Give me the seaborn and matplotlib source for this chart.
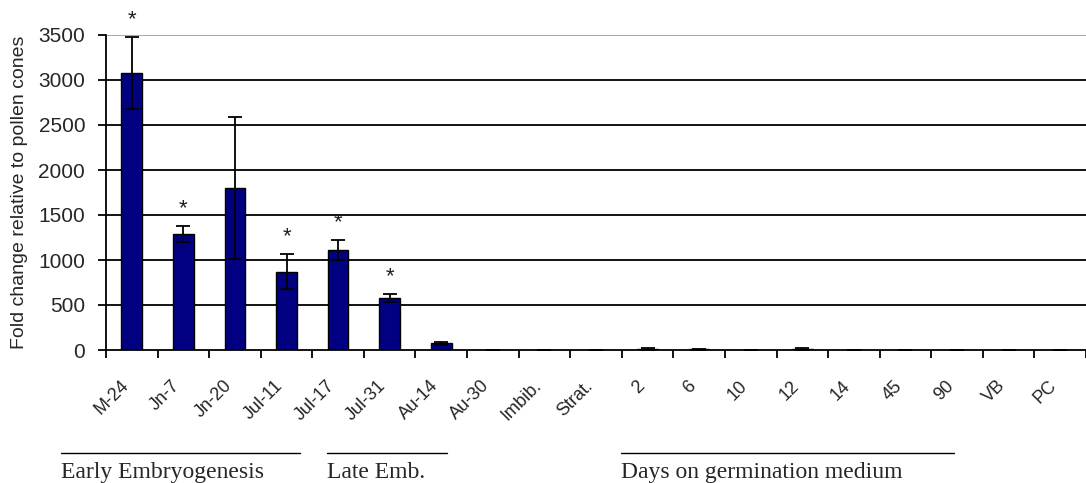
import matplotlib
matplotlib.use("Agg")
import matplotlib.pyplot as plt
import matplotlib.transforms as mtransforms
from matplotlib.lines import Line2D
import seaborn as sns
import pandas as pd
import numpy as np

categories = ["M-24", "Jn-7", "Jn-20", "Jul-11", "Jul-17", "Jul-31", "Au-14", "Au-30",
              "Imbib.", "Strat.", "2", "6", "10", "12", "14", "45", "90", "VB", "PC"]
values = [3080, 1290, 1800, 870, 1110, 575, 75, 0, 0, 0, 12, 8, 0, 12, 0, 0, 0, 0, 0]
errors = [400, 90, 790, 195, 110, 45, 15, 0, 0, 0, 10, 8, 0, 10, 0, 0, 0, 0, 0]
significant = ["M-24", "Jn-7", "Jul-11", "Jul-17", "Jul-31"]
yticks = [0, 500, 1000, 1500, 2000, 2500, 3000, 3500]
ylabel = "Fold change relative to pollen cones"
groups = [("Early Embryogenesis", 61, 300), ("Late Emb.", 327, 447),
          ("Days on germination medium", 621, 954)]

sns.set_style("white")
plt.rcParams["font.family"] = ["Liberation Sans", "DejaVu Sans"]

W, H = 1086, 483
fig = plt.figure(figsize=(W / 100, H / 100), dpi=100)
ax = fig.add_axes([106 / W, 1 - 350 / H, 1 - 106 / W, (350 - 35) / H])

df = pd.DataFrame({"cat": categories, "val": values})
sns.barplot(data=df, x="cat", y="val", order=categories, color="#000080",
            saturation=1, width=0.4, edgecolor="black", linewidth=1,
            errorbar=None, ax=ax, zorder=3)
x = np.arange(len(categories))
ax.errorbar(x, values, yerr=errors, fmt="none", ecolor="black", elinewidth=1.3,
            capsize=5, capthick=1.3, zorder=4)

for i, c in enumerate(categories):
    if c in significant:
        ax.text(i, values[i] + errors[i] + 190, "*", ha="center", va="center",
                fontsize=16, color="#202020", clip_on=False)

ax.set_xlim(-0.5, -0.5 + 980 / 51.83)
ax.set_ylim(0, 3500)
ax.set_yticks(yticks)
ax.set_yticklabels([str(v) for v in yticks], fontsize=15)
for yv in yticks[1:]:
    ax.axhline(yv, color="black" if yv < 3500 else "#a0a0a0", lw=1.3, zorder=1)

for s in ["top", "right"]:
    ax.spines[s].set_visible(False)
for s in ["left", "bottom"]:
    ax.spines[s].set_color("black")
    ax.spines[s].set_linewidth(1.3)
    ax.spines[s].set_zorder(5)

ax.tick_params(axis="y", which="major", direction="out", length=6, width=1.3,
               color="black", pad=9, left=True)
ax.set_xticks(np.arange(len(categories) + 1) - 0.5, minor=True)
ax.tick_params(axis="x", which="minor", direction="out", length=6, width=1.3,
               color="black", bottom=True)
ax.tick_params(axis="x", which="major", length=0, pad=24)
ax.set_xticklabels(categories, rotation=45, ha="right", va="center",
                   rotation_mode="anchor", fontsize=13)
offset = mtransforms.ScaledTranslation(-6 / 100, 0, fig.dpi_scale_trans)
for lab in ax.get_xticklabels():
    lab.set_transform(lab.get_transform() + offset)

ax.set_xlabel("")
ax.set_ylabel("")
fig.text(20 / W, 1 - 192 / H, ylabel, rotation=90, ha="center", va="center",
         fontsize=14)

for name, x0, x1 in groups:
    fig.add_artist(Line2D([x0 / W, x1 / W], [1 - 453 / H, 1 - 453 / H],
                          color="black", lw=1.0))
    fig.text(x0 / W, 1 - 478 / H, name, ha="left", va="baseline",
             fontsize=17, family=["Liberation Serif", "DejaVu Serif"])

fig.savefig("out.png", dpi=100, facecolor="white")
